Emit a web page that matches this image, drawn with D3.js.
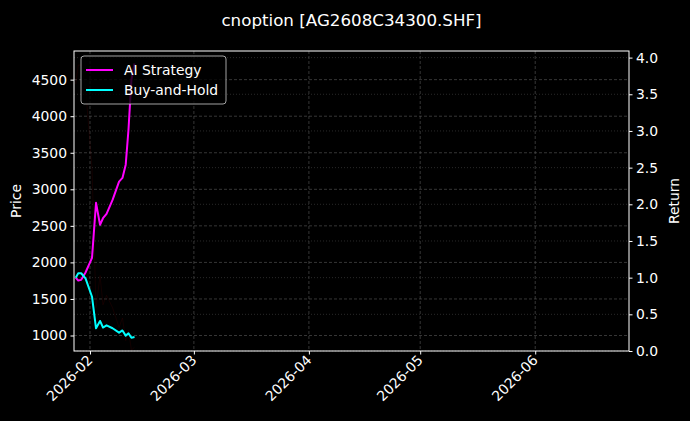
<!DOCTYPE html>
<html>
<head>
<meta charset="utf-8">
<script src="https://cdn.jsdelivr.net/npm/d3@7"></script>
<style>
  html, body { margin: 0; padding: 0; background: #000; }
  svg { display: block; font-family: "DejaVu Sans", sans-serif; }
</style>
</head>
<body>
<svg id="chart" width="690" height="421"></svg>
<script>
// ---- data ----
const title = "cnoption [AG2608C34300.SHF]";
const dates = [
  "2026-01-28T03:30", "2026-01-28T20:00", "2026-01-29T15:00", "2026-01-30T19:00",
  "2026-02-01T13:00", "2026-02-02T15:00", "2026-02-03T17:00", "2026-02-04T12:00",
  "2026-02-05T11:00", "2026-02-07T02:00", "2026-02-08T20:00", "2026-02-09T18:00",
  "2026-02-10T15:00", "2026-02-11T09:00", "2026-02-12T04:00", "2026-02-13T00:00"
];
const aiStrategy = [1.00, 0.96, 0.97, 1.07, 1.27, 2.02, 1.72, 1.81, 1.87, 2.06, 2.31, 2.36, 2.54, 3.02, 3.70, 3.92];
const buyHold    = [1.00, 1.06, 1.06, 0.99, 0.74, 0.31, 0.41, 0.32, 0.35, 0.31, 0.25, 0.28, 0.21, 0.24, 0.18, 0.19];
const price      = [4440, 4700, 4700, 4400, 3290, 1380, 1820, 1420, 1550, 1380, 1110, 1240, 930, 1070, 800, 840];
const xDomain = ["2026-01-27T16:30", "2026-06-26T06:45"];
const priceDomain = [788, 4892];
const returnDomain = [0, 4.09];
const priceTicks = [1000, 1500, 2000, 2500, 3000, 3500, 4000, 4500];
const returnTicks = [0, 0.5, 1.0, 1.5, 2.0, 2.5, 3.0, 3.5, 4.0];
const monthTicks = ["2026-02-01", "2026-03-01", "2026-04-01", "2026-05-01", "2026-06-01"];
const seriesNames = ["AI Strategy", "Buy-and-Hold"];

// ---- layout ----
const W = 690, H = 421;
const m = { left: 74, right: 61, top: 51, bottom: 70 };
const pw = W - m.left - m.right, ph = H - m.top - m.bottom;
const parse = d3.isoParse;

const svg = d3.select("#chart");
svg.append("rect").attr("width", W).attr("height", H).attr("fill", "#000");

const x = d3.scaleTime().domain(xDomain.map(parse)).range([0, pw]);
const yL = d3.scaleLinear().domain(priceDomain).range([ph, 0]);
const yR = d3.scaleLinear().domain(returnDomain).range([ph, 0]);

const g = svg.append("g").attr("transform", `translate(${m.left},${m.top})`);

// grids
const gridColor = "#5a5a5a";
g.append("g").selectAll("line").data(monthTicks.map(parse)).join("line")
  .attr("x1", d => x(d)).attr("x2", d => x(d)).attr("y1", 0).attr("y2", ph)
  .attr("stroke", gridColor).attr("stroke-width", 0.6).attr("stroke-dasharray", "3,2");
g.append("g").selectAll("line").data(priceTicks).join("line")
  .attr("x1", 0).attr("x2", pw).attr("y1", d => yL(d)).attr("y2", d => yL(d))
  .attr("stroke", gridColor).attr("stroke-width", 0.6).attr("stroke-dasharray", "3,2");
g.append("g").selectAll("line").data(returnTicks).join("line")
  .attr("x1", 0).attr("x2", pw).attr("y1", d => yR(d)).attr("y2", d => yR(d))
  .attr("stroke", "#444").attr("stroke-width", 0.6).attr("stroke-dasharray", "1,2");

// clip
svg.append("clipPath").attr("id", "clip").append("rect").attr("width", pw).attr("height", ph);
const plot = g.append("g").attr("clip-path", "url(#clip)");

const pts = dates.map(parse);
const priceLine = d3.line().x((d, i) => x(pts[i])).y(d => yL(d));
const retLine = d3.line().x((d, i) => x(pts[i])).y(d => yR(d));

plot.append("path").datum(price).attr("d", priceLine)
  .attr("fill", "none").attr("stroke", "#400000").attr("stroke-opacity", 0.3).attr("stroke-width", 1);
plot.append("path").datum(aiStrategy).attr("d", retLine)
  .attr("fill", "none").attr("stroke", "#ff00ff").attr("stroke-width", 2).attr("stroke-linejoin", "round");
plot.append("path").datum(buyHold).attr("d", retLine)
  .attr("fill", "none").attr("stroke", "#00ffff").attr("stroke-width", 2).attr("stroke-linejoin", "round");

// axes
const fs = 13.9;
const axL = g.append("g").call(d3.axisLeft(yL).tickValues(priceTicks).tickSize(3.5).tickPadding(3.5).tickFormat(d3.format("d")));
const axR = g.append("g").attr("transform", `translate(${pw},0)`)
  .call(d3.axisRight(yR).tickValues(returnTicks).tickSize(3.5).tickPadding(3.5).tickFormat(d3.format(".1f")));
const axB = g.append("g").attr("transform", `translate(0,${ph})`)
  .call(d3.axisBottom(x).tickValues(monthTicks.map(parse)).tickSize(3.5).tickFormat(d3.timeFormat("%Y-%m")));
[axL, axR, axB].forEach(a => {
  a.select(".domain").remove();
  a.selectAll("line").attr("stroke", "#fff");
  a.selectAll("text").attr("fill", "#fff").attr("font-size", fs).attr("font-family", "DejaVu Sans, sans-serif");
});
axB.selectAll("text")
  .attr("text-anchor", "end").attr("dy", null).attr("y", 0)
  .attr("transform", "translate(3,10) rotate(-45)");

// frame
g.append("rect").attr("width", pw).attr("height", ph).attr("fill", "none").attr("stroke", "#fff").attr("stroke-width", 1);

// labels
svg.append("text").attr("x", m.left + pw / 2).attr("y", 26).attr("text-anchor", "middle")
  .attr("fill", "#fff").attr("font-size", 16.7).text(title);
svg.append("text").attr("transform", `translate(21,${m.top + ph / 2}) rotate(-90)`).attr("text-anchor", "middle")
  .attr("fill", "#fff").attr("font-size", fs).text("Price");
svg.append("text").attr("transform", `translate(679,${m.top + ph / 2}) rotate(-90)`).attr("text-anchor", "middle")
  .attr("fill", "#fff").attr("font-size", fs).text("Return");

// legend
const lg = g.append("g").attr("transform", "translate(7,5)");
lg.append("rect").attr("width", 145).attr("height", 48).attr("rx", 3)
  .attr("fill", "#000").attr("fill-opacity", 0.8).attr("stroke", "#cccccc").attr("stroke-width", 0.8);
const colors = ["#ff00ff", "#00ffff"];
seriesNames.forEach((name, i) => {
  const yy = 14 + i * 20;
  lg.append("line").attr("x1", 5).attr("x2", 32).attr("y1", yy).attr("y2", yy)
    .attr("stroke", colors[i]).attr("stroke-width", 2);
  lg.append("text").attr("x", 43).attr("y", yy).attr("dy", "0.35em")
    .attr("fill", "#fff").attr("font-size", fs).text(name);
});
</script>
</body>
</html>
